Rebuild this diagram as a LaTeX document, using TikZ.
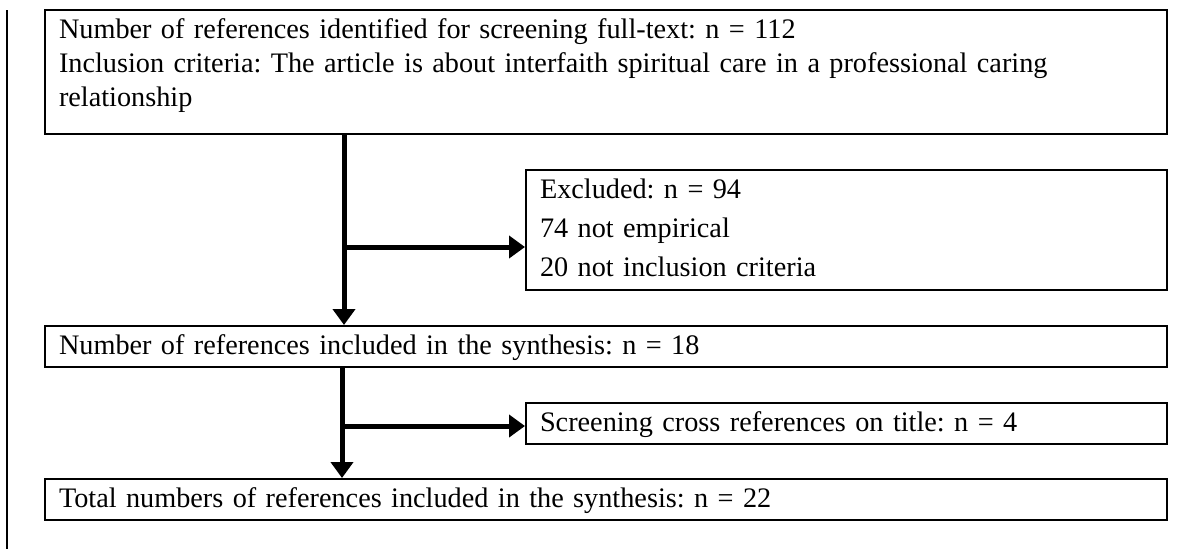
\documentclass[tikz,border=0pt]{standalone}
\usepackage{fontspec}
\setmainfont{Liberation Serif}
\usetikzlibrary{arrows.meta}
\frenchspacing

\begin{document}
\begin{tikzpicture}[x=0.4pt,y=-0.4pt]
\useasboundingbox (0,0) rectangle (1197,549);
\draw[line width=0.8pt] (7,10) -- (7,549);

\begin{scope}[every node/.style={draw,line width=0.8pt,anchor=north west,inner xsep=5.6pt,inner ysep=0pt,align=left,text height=11.2pt,font=\fontsize{11.3pt}{13.6pt}\selectfont}]
	\node[text width=437.6pt,text depth=38.4pt] (fulltext) at (44,9) {Number of references identified for screening full-text: n = 112\\Inclusion criteria: The article is about interfaith spiritual care in a professional caring\\relationship};
	\node[text width=245.2pt,text depth=36.8pt,font=\fontsize{11.3pt}{15.6pt}\selectfont] (excluded) at (525,169) {Excluded: n = 94\\74 not empirical\\20 not inclusion criteria};
	\node[text width=437.6pt,text depth=5.2pt] (synth) at (44,325) {Number of references included in the synthesis: n = 18};
	\node[text width=245.2pt,text depth=5.2pt] (cross) at (525,402) {Screening cross references on title: n = 4};
	\node[text width=437.6pt,text depth=5.2pt] (total) at (44,478) {Total numbers of references included in the synthesis: n = 22};
\end{scope}

\coordinate (split1) at (344,247);
\coordinate (split2) at (342,426);

\begin{scope}[every edge/.style={draw=black,line width=2pt}]
	\path [-{Triangle[length=6.4pt,width=8.8pt]}] (fulltext.south -| split1) edge (synth.north -| split1);
	\path [-{Triangle[length=6.4pt,width=8.8pt]}] (split1) edge (excluded.west |- split1);
	\path [-{Triangle[length=6.4pt,width=8.8pt]}] (synth.south -| split2) edge (total.north -| split2);
	\path [-{Triangle[length=6.4pt,width=8.8pt]}] (split2) edge (cross.west |- split2);
\end{scope}
\end{tikzpicture}
\end{document}
